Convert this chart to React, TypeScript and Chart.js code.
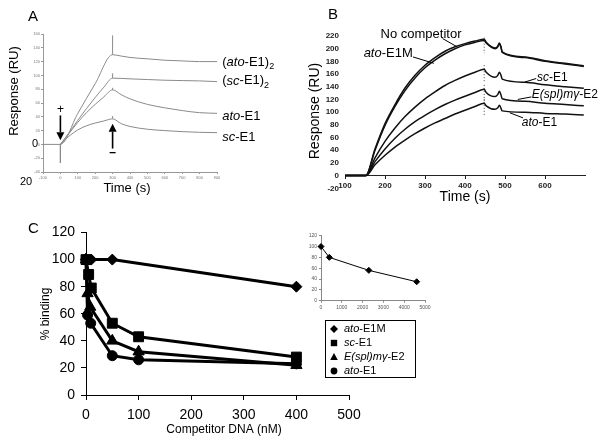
import React, { useEffect, useRef } from "react";
import { Chart, registerables } from "chart.js";
Chart.register(...registerables);

const FONT = 'Arial, "Liberation Sans", Helvetica, sans-serif';
Chart.defaults.font.family = FONT;

// ---------------- Panel A ----------------
const A_X_TICKS = [-100, 0, 100, 200, 300, 400, 500, 600, 700, 800, 900];
const A_Y_TICKS = [-40, -20, 0, 20, 40, 60, 80, 100, 120, 140, 160];
const A_T_ATO2 = [-100, 0, 100, 200, 300, 350, 400, 500, 600, 700, 800, 900];
const A_V_ATO2 = [0, 0, 45, 88, 130, 128, 126, 124, 122, 121, 120, 120];
const A_T_SC2 = [0, 50, 100, 150, 200, 250, 300, 400, 500, 600, 700, 800, 900];
const A_V_SC2 = [0, 17, 35, 52, 68, 83, 96, 95, 94, 93, 92.5, 92, 91];
const A_T_ATO1 = [0, 50, 100, 150, 200, 250, 300, 350, 400, 500, 600, 700, 800, 900];
const A_V_ATO1 = [0, 16, 32, 46, 58, 69, 79, 72, 66, 58, 53, 49, 46, 45];
const A_T_SC1 = [0, 50, 100, 150, 200, 250, 300, 350, 400, 500, 600, 700, 800, 900];
const A_V_SC1 = [0, 12, 21, 27, 31, 34, 37, 30, 26, 22, 20, 18.5, 17.5, 17];
const A_SPIKE_T = [0, 300, 300, 300, 300];
const A_SPIKE_FROM = [0, 130, 96, 79, 37];
const A_SPIKE_TO = [-27, 158, 103, 82, 41];
const A_LABEL_T = 930;
const A_LABEL_V = [119, 92, 41, 10.5];
const A_ARROW_T = [0, 300];
const A_ARROW_FROM = [42, -6];
const A_ARROW_TO = [6, 30];

// ---------------- Panel B ----------------
const B_X_TICKS = [100, 200, 300, 400, 500, 600];
const B_Y_TICKS = [-20, 0, 20, 40, 60, 80, 100, 120, 140, 160, 180, 200, 220];
const B_T_RISE = [100, 152, 175, 200, 225, 250, 275, 300, 325, 350, 375, 400, 425, 448];
const B_T_DECAY = [453, 475, 482, 486, 490, 493, 550, 600, 650, 697];
const B_NOCOMP = [0, 0, 42, 82, 112, 138, 158, 174, 186, 196, 203, 208, 212, 215, 210, 201, 204, 209, 203, 195, 187, 181, 177, 173];
const B_ATOE1M = [0, 0, 40, 79, 109, 134, 154, 170, 182, 192, 200, 206, 210, 213, 209, 200, 203, 208, 202, 194, 186, 180, 176, 172];
const B_SCE1 = [0, 0, 28, 54, 75, 93, 108, 121, 132, 142, 150, 157, 163, 167.5, 163, 155, 158, 163, 158, 152, 147, 143, 140, 137.5];
const B_E2 = [0, 0, 22, 42, 59, 73, 85, 95, 104, 112, 119, 125, 131, 136, 131, 124.5, 128, 133, 127, 121, 117, 114, 112, 110];
const B_ATOE1 = [0, 0, 17, 32, 45, 56, 66, 75, 83, 90, 97, 103, 109, 114, 110, 104.5, 107, 111, 106, 102, 100, 98, 97, 95.5];
const B_DOT_T = 448;
const B_DOT_TOP = [222, 174, 143, 121];
const B_DOT_BOTTOM = [193, 146, 116, 93];

// ---------------- Panel C ----------------
const C_X_TICKS = [0, 100, 200, 300, 400, 500];
const C_Y_TICKS = [0, 20, 40, 60, 80, 100, 120];
const C_X_M = [0, 10, 50, 400];
const C_Y_M = [100, 100, 100, 80];
const C_X_SC = [0, 5, 10, 50, 100, 400];
const C_Y_SC = [100, 89, 79, 53, 43, 28];
const C_X_E2 = [0, 3, 8, 50, 100, 400];
const C_Y_E2 = [100, 75, 65, 40, 32, 22];
const C_X_ATO = [0, 3, 9, 50, 100, 400];
const C_Y_ATO = [100, 59, 53, 29, 26, 23];
const IN_X_TICKS = [0, 1000, 2000, 3000, 4000, 5000];
const IN_Y_TICKS = [0, 20, 40, 60, 80, 100, 120];
const IN_X = [0, 400, 2300, 4600];
const IN_Y = [100, 80, 56, 35];

type Part = { t: string; i?: boolean; sub?: boolean };

const xy = (xs: number[], ys: number[]) => xs.map((x, i) => ({ x, y: ys[i] }));
const plain = (v: any) => String(v);

function drawRich(ctx: CanvasRenderingContext2D, parts: Part[], x: number, y: number, size: number, align: "left" | "center" = "left", weight = "normal") {
  ctx.save();
  ctx.textBaseline = "middle";
  ctx.textAlign = "left";
  const fontOf = (p: Part) => `${p.i ? "italic " : ""}${weight} ${p.sub ? Math.round(size * 0.7) : size}px ${FONT}`;
  let total = 0;
  for (const p of parts) {
    ctx.font = fontOf(p);
    total += ctx.measureText(p.t).width;
  }
  let cx = align === "center" ? x - total / 2 : x;
  for (const p of parts) {
    ctx.font = fontOf(p);
    ctx.fillText(p.t, cx, p.sub ? y + size * 0.35 : y);
    cx += ctx.measureText(p.t).width;
  }
  ctx.restore();
}

function drawRotated(ctx: CanvasRenderingContext2D, text: string, x: number, y: number, size: number) {
  ctx.save();
  ctx.translate(x, y);
  ctx.rotate(-Math.PI / 2);
  ctx.font = `${size}px ${FONT}`;
  ctx.textAlign = "center";
  ctx.textBaseline = "middle";
  ctx.fillText(text, 0, 0);
  ctx.restore();
}

function drawArrow(ctx: CanvasRenderingContext2D, x: number, yFrom: number, yTo: number) {
  const dir = yTo > yFrom ? 1 : -1;
  const head = 8;
  ctx.save();
  ctx.strokeStyle = "#000";
  ctx.fillStyle = "#000";
  ctx.lineWidth = 1.6;
  ctx.beginPath();
  ctx.moveTo(x, yFrom);
  ctx.lineTo(x, yTo - dir * head);
  ctx.stroke();
  ctx.beginPath();
  ctx.moveTo(x, yTo);
  ctx.lineTo(x - 4, yTo - dir * head);
  ctx.lineTo(x + 4, yTo - dir * head);
  ctx.closePath();
  ctx.fill();
  ctx.restore();
}

function lineDS(data: any[], color: string, width: number, extra: any = {}) {
  return {
    data,
    borderColor: color,
    backgroundColor: color,
    borderWidth: width,
    pointRadius: 0,
    cubicInterpolationMode: "monotone",
    fill: false,
    ...extra,
  };
}

const fixTicks = (vals: number[]) => (s: any) => {
  s.ticks = vals.map((v) => ({ value: v }));
};

function configA(): any {
  const gray = "#8a8a8a";
  const spikes = A_SPIKE_T.map((t, i) =>
    lineDS([{ x: t, y: A_SPIKE_FROM[i] }, { x: t, y: A_SPIKE_TO[i] }], gray, 1, { cubicInterpolationMode: "default", tension: 0 })
  );
  return {
    type: "line",
    data: {
      datasets: [
        lineDS(xy(A_T_ATO2, A_V_ATO2), gray, 1),
        lineDS(xy(A_T_SC2, A_V_SC2), gray, 1),
        lineDS(xy(A_T_ATO1, A_V_ATO1), gray, 1),
        lineDS(xy(A_T_SC1, A_V_SC1), gray, 1),
        ...spikes,
      ],
    },
    options: {
      responsive: false,
      animation: false,
      devicePixelRatio: 1,
      layout: { padding: { left: 0, top: 34, right: 83, bottom: 0 } },
      plugins: { legend: { display: false }, tooltip: { enabled: false } },
      scales: {
        x: {
          type: "linear",
          min: -100,
          max: 900,
          afterBuildTicks: fixTicks(A_X_TICKS),
          afterFit: (s: any) => { s.height = 28; },
          grid: { drawOnChartArea: false, tickLength: 2, color: "#999" },
          border: { color: "#999" },
          ticks: { font: { size: 4 }, color: "#777", padding: 1, maxRotation: 0, autoSkip: false, callback: plain },
        },
        y: {
          min: -40,
          max: 160,
          afterBuildTicks: fixTicks(A_Y_TICKS),
          afterFit: (s: any) => { s.width = 43; },
          grid: { drawOnChartArea: false, tickLength: 2, color: "#999" },
          border: { color: "#999" },
          ticks: { font: { size: 4 }, color: "#777", padding: 1, autoSkip: false, callback: plain },
        },
      },
    },
    plugins: [
      {
        id: "annA",
        afterDraw(chart: any) {
          const { ctx } = chart;
          const x = chart.scales.x;
          const y = chart.scales.y;
          ctx.save();
          ctx.fillStyle = "#000";
          drawRich(ctx, [{ t: "A" }], 28, 17, 15);
          drawRotated(ctx, "Response (RU)", 14, 91, 13);
          drawRich(ctx, [{ t: "Time (s)" }], 127, 188, 13, "center");
          drawRich(ctx, [{ t: "20" }], 20, 182, 11);
          drawRich(ctx, [{ t: "0" }], 32, y.getPixelForValue(0), 11);
          A_ARROW_T.forEach((t, i) => {
            drawArrow(ctx, x.getPixelForValue(t), y.getPixelForValue(A_ARROW_FROM[i]), y.getPixelForValue(A_ARROW_TO[i]));
          });
          drawRich(ctx, [{ t: "+" }], x.getPixelForValue(0), y.getPixelForValue(50), 12, "center");
          ctx.fillRect(x.getPixelForValue(300) - 3, y.getPixelForValue(-11), 6, 1.3);
          const lx = x.getPixelForValue(A_LABEL_T);
          const labels: Part[][] = [
            [{ t: "(" }, { t: "ato", i: true }, { t: "-E1)" }, { t: "2", sub: true }],
            [{ t: "(" }, { t: "sc", i: true }, { t: "-E1)" }, { t: "2", sub: true }],
            [{ t: "ato", i: true }, { t: "-E1" }],
            [{ t: "sc", i: true }, { t: "-E1" }],
          ];
          labels.forEach((p, i) => drawRich(ctx, p, lx, y.getPixelForValue(A_LABEL_V[i]), 13));
          ctx.restore();
        },
      },
    ],
  };
}

function configB(): any {
  const black = "#111";
  const T = [...B_T_RISE, ...B_T_DECAY];
  const dots = B_DOT_TOP.map((top, i) =>
    lineDS([{ x: B_DOT_T, y: top }, { x: B_DOT_T, y: B_DOT_BOTTOM[i] }], "#444", 1, { cubicInterpolationMode: "default", tension: 0, borderDash: [1, 2] })
  );
  return {
    type: "line",
    data: {
      datasets: [
        lineDS(xy(T, B_NOCOMP), black, 1.5),
        lineDS(xy(T, B_ATOE1M), black, 1.5),
        lineDS(xy(T, B_SCE1), black, 1.5),
        lineDS(xy(T, B_E2), black, 1.5),
        lineDS(xy(T, B_ATOE1), black, 1.5),
        ...dots,
      ],
    },
    options: {
      responsive: false,
      animation: false,
      devicePixelRatio: 1,
      layout: { padding: { left: 0, top: 36, right: 15, bottom: 26.7 } },
      plugins: { legend: { display: false }, tooltip: { enabled: false } },
      scales: {
        x: {
          type: "linear",
          min: 100,
          max: 700,
          position: { y: 0 },
          afterBuildTicks: fixTicks(B_X_TICKS),
          afterFit: (s: any) => { s.height = 0; },
          grid: { drawOnChartArea: false, tickLength: 3, color: "#222" },
          border: { color: "#222", width: 1 },
          ticks: { font: { size: 8, weight: "bold" }, color: "#222", padding: 2, maxRotation: 0, autoSkip: false, callback: plain },
        },
        y: {
          min: -20,
          max: 220,
          afterBuildTicks: fixTicks(B_Y_TICKS),
          afterFit: (s: any) => { s.width = 45; },
          grid: { display: false, drawTicks: false, tickLength: 0 },
          border: { display: false },
          ticks: { font: { size: 8, weight: "bold" }, color: "#222", padding: 6, autoSkip: false, callback: plain },
        },
      },
    },
    plugins: [
      {
        id: "annB",
        afterDraw(chart: any) {
          const { ctx } = chart;
          const x = chart.scales.x;
          const y = chart.scales.y;
          const P = (t: number, v: number) => [x.getPixelForValue(t), y.getPixelForValue(v)];
          ctx.save();
          ctx.fillStyle = "#000";
          ctx.strokeStyle = "#000";
          ctx.lineWidth = 1;
          drawRich(ctx, [{ t: "B" }], 28, 15, 15);
          drawRotated(ctx, "Response (RU)", 15, 111, 14);
          drawRich(ctx, [{ t: "Time (s)" }], 165, 197, 14, "center");
          const lead = (t1: number, v1: number, t2: number, v2: number) => {
            const [a, b] = P(t1, v1);
            const [c, d] = P(t2, v2);
            ctx.beginPath();
            ctx.moveTo(a, b);
            ctx.lineTo(c, d);
            ctx.stroke();
          };
          let [px, py] = P(290, 222);
          drawRich(ctx, [{ t: "No competitor" }], px, py, 13, "center");
          lead(344, 216, 380, 203);
          [px, py] = P(208, 193);
          drawRich(ctx, [{ t: "ato", i: true }, { t: "-E1M" }], px, py, 13, "center");
          lead(270, 187, 322, 177);
          [px, py] = P(580, 155);
          drawRich(ctx, [{ t: "sc", i: true }, { t: "-E1" }], px, py, 12);
          lead(550, 147.5, 578, 153);
          [px, py] = P(567, 127);
          drawRich(ctx, [{ t: "E(spl)m\u03b3", i: true }, { t: "-E2" }], px, py, 12);
          lead(532, 120, 566, 124);
          [px, py] = P(542, 84);
          drawRich(ctx, [{ t: "ato", i: true }, { t: "-E1" }], px, py, 12);
          lead(512, 99, 545, 91);
          ctx.restore();
        },
      },
    ],
  };
}

function drawMarker(ctx: CanvasRenderingContext2D, style: string, x: number, y: number, r: number) {
  ctx.beginPath();
  if (style === "rectRot") {
    ctx.moveTo(x, y - r);
    ctx.lineTo(x + r, y);
    ctx.lineTo(x, y + r);
    ctx.lineTo(x - r, y);
    ctx.closePath();
  } else if (style === "rect") {
    ctx.rect(x - r * 0.8, y - r * 0.8, r * 1.6, r * 1.6);
  } else if (style === "triangle") {
    ctx.moveTo(x, y - r);
    ctx.lineTo(x + r * 0.95, y + r * 0.75);
    ctx.lineTo(x - r * 0.95, y + r * 0.75);
    ctx.closePath();
  } else {
    ctx.arc(x, y, r * 0.85, 0, Math.PI * 2);
  }
  ctx.fill();
}

function configC(): any {
  const black = "#000";
  const ds = (xs: number[], ys: number[], style: string, r: number) =>
    lineDS(xy(xs, ys), black, 3, {
      cubicInterpolationMode: "default",
      tension: 0,
      pointStyle: style,
      pointRadius: r,
      pointBackgroundColor: black,
      pointBorderColor: black,
      pointBorderWidth: 1,
      clip: false,
    });
  return {
    type: "line",
    data: {
      datasets: [
        ds(C_X_M, C_Y_M, "rectRot", 5.5),
        ds(C_X_SC, C_Y_SC, "rect", 7),
        ds(C_X_E2, C_Y_E2, "triangle", 6.5),
        ds(C_X_ATO, C_Y_ATO, "circle", 5),
      ],
    },
    options: {
      responsive: false,
      animation: false,
      devicePixelRatio: 1,
      layout: { padding: { left: 0, top: 32.5, right: 91, bottom: 0 } },
      plugins: { legend: { display: false }, tooltip: { enabled: false } },
      scales: {
        x: {
          type: "linear",
          min: 0,
          max: 500,
          afterBuildTicks: fixTicks(C_X_TICKS),
          afterFit: (s: any) => { s.height = 48; },
          grid: { drawOnChartArea: false, tickLength: 5, color: "#000" },
          border: { color: "#000", width: 1 },
          ticks: { font: { size: 14 }, color: "#000", padding: 7, maxRotation: 0, autoSkip: false, callback: plain },
        },
        y: {
          min: 0,
          max: 120,
          afterBuildTicks: fixTicks(C_Y_TICKS),
          afterFit: (s: any) => { s.width = 86; },
          grid: { drawOnChartArea: false, tickLength: 5, color: "#000" },
          border: { color: "#000", width: 1 },
          ticks: { font: { size: 14 }, color: "#000", padding: 6, autoSkip: false, callback: plain },
        },
      },
    },
    plugins: [
      {
        id: "annC",
        afterDraw(chart: any) {
          const { ctx } = chart;
          ctx.save();
          ctx.fillStyle = "#000";
          drawRich(ctx, [{ t: "C" }], 28, 29, 15);
          drawRotated(ctx, "% binding", 46, 114, 12);
          drawRich(ctx, [{ t: "Competitor DNA (nM)" }], 224, 230, 12, "center");
          const bx = 325, by = 120, bw = 90, bh = 57;
          ctx.fillStyle = "#fff";
          ctx.fillRect(bx, by, bw, bh);
          ctx.strokeStyle = "#000";
          ctx.lineWidth = 1;
          ctx.strokeRect(bx + 0.5, by + 0.5, bw, bh);
          ctx.fillStyle = "#000";
          const items: [string, Part[]][] = [
            ["rectRot", [{ t: "ato", i: true }, { t: "-E1M" }]],
            ["rect", [{ t: "sc", i: true }, { t: "-E1" }]],
            ["triangle", [{ t: "E(spl)m\u03b3", i: true }, { t: "-E2" }]],
            ["circle", [{ t: "ato", i: true }, { t: "-E1" }]],
          ];
          items.forEach(([style, parts], i) => {
            const yy = by + 9 + i * 14;
            drawMarker(ctx, style, bx + 9, yy, 4);
            drawRich(ctx, parts, bx + 19, yy, 11);
          });
          ctx.restore();
        },
      },
    ],
  };
}

function configInset(): any {
  return {
    type: "line",
    data: {
      datasets: [
        lineDS(xy(IN_X, IN_Y), "#000", 1, {
          cubicInterpolationMode: "default",
          tension: 0,
          pointStyle: "rectRot",
          pointRadius: 3,
          pointBackgroundColor: "#000",
          pointBorderColor: "#000",
          clip: false,
        }),
      ],
    },
    options: {
      responsive: false,
      animation: false,
      devicePixelRatio: 1,
      layout: { padding: { left: 0, top: 10.7, right: 15, bottom: 0 } },
      plugins: { legend: { display: false }, tooltip: { enabled: false } },
      scales: {
        x: {
          type: "linear",
          min: 0,
          max: 5000,
          afterBuildTicks: fixTicks(IN_X_TICKS),
          afterFit: (s: any) => { s.height = 14.3; },
          grid: { drawOnChartArea: false, tickLength: 2, color: "#888" },
          border: { color: "#888" },
          ticks: { font: { size: 5 }, color: "#555", padding: 2, maxRotation: 0, autoSkip: false, callback: plain },
        },
        y: {
          min: 0,
          max: 120,
          afterBuildTicks: fixTicks(IN_Y_TICKS),
          afterFit: (s: any) => { s.width = 21; },
          grid: { drawOnChartArea: false, tickLength: 2, color: "#888" },
          border: { color: "#888" },
          ticks: { font: { size: 5 }, color: "#555", padding: 2, autoSkip: false, callback: plain },
        },
      },
    },
  };
}

export default function App() {
  const aRef = useRef<HTMLCanvasElement>(null);
  const bRef = useRef<HTMLCanvasElement>(null);
  const cRef = useRef<HTMLCanvasElement>(null);
  const iRef = useRef<HTMLCanvasElement>(null);
  useEffect(() => {
    document.body.style.margin = "0";
    const charts = [
      new Chart(aRef.current as HTMLCanvasElement, configA()),
      new Chart(bRef.current as HTMLCanvasElement, configB()),
      new Chart(cRef.current as HTMLCanvasElement, configC()),
      new Chart(iRef.current as HTMLCanvasElement, configInset()),
    ];
    return () => charts.forEach((c) => c.destroy());
  }, []);
  const abs = (l: number, t: number, w: number, h: number): React.CSSProperties => ({
    position: "absolute",
    left: l,
    top: t,
    width: w,
    height: h,
  });
  return (
    <div style={{ position: "relative", width: 600, height: 443, background: "#fff", overflow: "hidden" }}>
      <canvas ref={aRef} width={300} height={200} style={abs(0, 0, 300, 200)} />
      <canvas ref={bRef} width={300} height={215} style={abs(300, 0, 300, 215)} />
      <canvas ref={cRef} width={440} height={243} style={abs(0, 200, 440, 243)} />
      <canvas ref={iRef} width={140} height={90} style={abs(300, 225, 140, 90)} />
    </div>
  );
}
